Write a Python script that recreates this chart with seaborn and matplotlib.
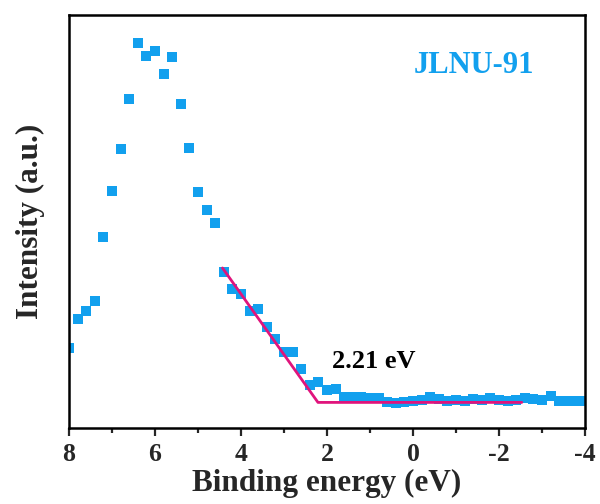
import matplotlib
matplotlib.use("Agg")
import matplotlib.pyplot as plt
from matplotlib.ticker import MultipleLocator
import seaborn as sns
import pandas as pd

# Valence-band XPS spectrum (binding energy in eV, intensity in a.u.)
energy = [8.0, 7.8, 7.6, 7.4, 7.2, 7.0, 6.8, 6.6, 6.4, 6.2, 6.0, 5.8, 5.6, 5.4,
          5.2, 5.0, 4.8, 4.6, 4.4, 4.2, 4.0, 3.8, 3.6, 3.4, 3.2, 3.0, 2.8, 2.6,
          2.4, 2.2, 2.0, 1.8, 1.6, 1.4, 1.2, 1.0, 0.8, 0.6, 0.4, 0.2, 0.0,
          -0.2, -0.4, -0.6, -0.8, -1.0, -1.2, -1.4, -1.6, -1.8, -2.0, -2.2,
          -2.4, -2.6, -2.8, -3.0, -3.2, -3.4, -3.6, -3.8, -4.0]
intensity = [80, 109, 117, 127, 191, 237, 279, 329, 385, 372, 377, 354, 371, 324,
             280, 236, 218, 205, 156, 139, 134, 117, 119, 101, 89, 76, 76, 59,
             43, 46, 38, 39, 31, 31, 31, 30, 30, 26, 25, 26, 27,
             28, 31, 29, 27, 28, 27, 29, 28, 30, 28, 27,
             28, 30, 29, 28, 32, 27, 27, 27, 27]

# Linear extrapolation of the leading edge and the baseline
vbm = 2.21
edge_energy = [4.43, vbm, -2.53]
edge_intensity = [160, 25.5, 25.5]

sample_name = "JLNU-91"
blue = "#12A0EE"
magenta = "#E0147C"

sns.set_theme(style="ticks")
plt.rcParams["font.family"] = ["Liberation Serif", "DejaVu Serif"]
plt.rcParams["font.weight"] = "bold"
plt.rcParams["axes.unicode_minus"] = False

fig = plt.figure(figsize=(6.0, 5.04), dpi=100)
ax = fig.add_axes([0.115, 0.151, 0.86, 0.819])

spec = pd.DataFrame({"E": energy, "I": intensity})
edge = pd.DataFrame({"E": edge_energy, "I": edge_intensity})

sns.scatterplot(data=spec, x="E", y="I", marker="s", s=44, color=blue,
                linewidth=0, ax=ax, zorder=2)
sns.lineplot(data=edge, x="E", y="I", sort=False, color=magenta, lw=2,
             ax=ax, zorder=3)

ax.set_xlim(8, -4)
ax.set_ylim(0, 413)
ax.xaxis.set_major_locator(MultipleLocator(2))
ax.xaxis.set_minor_locator(MultipleLocator(1))
ax.set_yticks([])
ax.tick_params(axis="x", which="major", length=6, width=1.6, direction="out",
               labelsize=18.5, pad=5)
ax.tick_params(axis="x", which="minor", length=3.5, width=1.6, direction="out")
for lab in ax.get_xticklabels():
    lab.set_fontweight("bold")
for sp in ax.spines.values():
    sp.set_linewidth(1.8)
    sp.set_color("black")

ax.set_xlabel("Binding energy (eV)", fontsize=22.5, fontweight="bold", labelpad=2)
ax.set_ylabel("Intensity (a.u.)", fontsize=22.5, fontweight="bold", labelpad=17)

ax.text(0.785, 0.877, sample_name, transform=ax.transAxes, color=blue,
        fontsize=22, fontweight="bold", ha="center", va="center")
ax.text(0.91, 66, f"{vbm:.2f} eV", color="black", fontsize=19,
        fontweight="bold", ha="center", va="center")

fig.savefig("out.png", dpi=100, facecolor="white")
